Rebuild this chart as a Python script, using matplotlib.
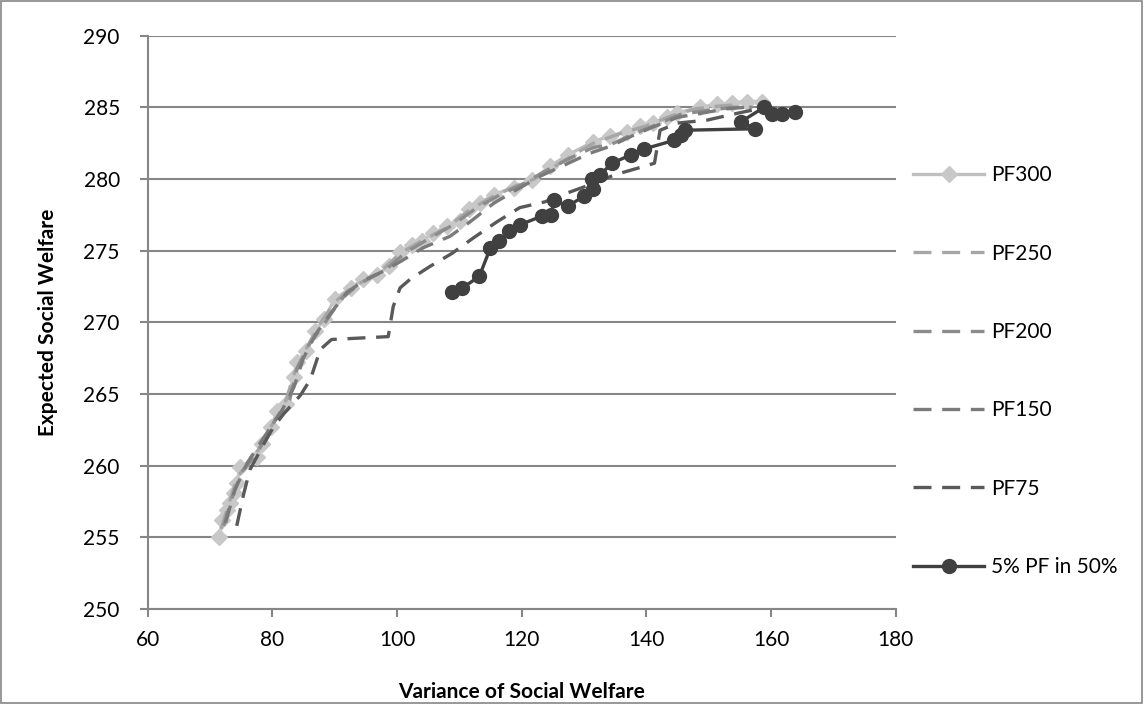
import matplotlib
matplotlib.use("Agg")
import matplotlib.pyplot as plt
from matplotlib.patches import Rectangle

# frontier points: variance (x) vs expected social welfare (y)
pf300_x = [71.5, 72.0, 72.7, 73.2, 73.8, 74.3, 74.9, 77.6, 78.3, 79.8, 80.8, 82.2,
           83.5, 83.9, 85.4, 86.9, 88.3, 90.0, 92.6, 94.6, 96.8, 98.7, 100.5, 102.4,
           104.0, 105.8, 108.0, 110.1, 111.5, 113.3, 115.5, 118.7, 121.6, 124.6,
           127.5, 131.5, 134.2, 136.9, 139.0, 141.1, 143.3, 144.9, 148.6, 151.3,
           153.7, 156.1, 158.5]
pf300_y = [255.0, 256.2, 256.9, 257.4, 258.1, 258.8, 259.9, 260.6, 261.5, 262.7, 263.8, 264.3,
           266.2, 267.2, 268.0, 269.4, 270.2, 271.6, 272.4, 273.0, 273.3, 273.9, 274.9, 275.4,
           275.7, 276.2, 276.7, 277.1, 277.9, 278.3, 278.9, 279.4, 279.9, 280.9,
           281.7, 282.6, 283.0, 283.3, 283.7, 283.9, 284.3, 284.6, 285.0, 285.2,
           285.3, 285.4, 285.4]

pf250_x = [71.8, 73.0, 74.5, 77.0, 79.5, 82.0, 83.6, 85.5, 87.5, 90.0, 93.0, 97.0, 100.5,
           104.0, 108.0, 111.5, 115.5, 119.0, 122.0, 125.0, 128.0, 131.5, 136.0, 140.0,
           144.0, 148.0, 152.0, 155.5]
pf250_y = [255.6, 257.3, 259.3, 260.5, 262.5, 264.3, 266.5, 268.2, 269.8, 271.4, 272.5, 273.4, 274.8,
           275.7, 276.6, 277.8, 278.8, 279.5, 280.0, 280.8, 281.6, 282.5, 283.2, 283.7,
           284.4, 284.9, 285.1, 285.2]

pf200_x = [72.2, 73.5, 75.0, 78.0, 80.5, 82.8, 84.0, 86.0, 88.5, 91.0, 94.0, 98.0, 101.5,
           105.0, 109.0, 112.5, 116.5, 120.0, 124.0, 128.0, 131.5, 134.3, 137.7, 141.7,
           145.4, 150.0, 154.0, 157.0]
pf200_y = [255.8, 257.7, 259.5, 261.2, 263.2, 264.6, 266.8, 268.5, 270.0, 271.6, 272.7, 273.6, 274.9,
           275.8, 276.8, 277.9, 278.9, 279.6, 280.6, 281.5, 282.2, 282.4, 283.1, 283.8,
           284.5, 284.8, 285.0, 285.0]

pf150_x = [72.5, 74.0, 76.0, 79.0, 81.5, 83.5, 85.0, 87.0, 89.5, 92.0, 95.0, 98.0, 100.8,
           104.2, 108.5, 111.7, 115.5, 119.0, 123.0, 127.0, 131.0, 134.3, 137.7, 141.5,
           145.0, 149.0, 153.0, 156.0]
pf150_y = [256.0, 258.3, 260.2, 262.2, 263.8, 265.5, 267.5, 269.2, 270.7, 272.1, 273.0, 273.6, 274.3,
           275.2, 276.0, 277.0, 278.3, 279.2, 280.2, 281.0, 281.8, 282.3, 283.0, 283.7,
           284.3, 284.6, 284.9, 285.0]

pf75_x = [74.3, 75.4, 76.4, 78.5, 80.2, 82.0, 84.5, 86.1, 87.7, 89.5, 98.6, 99.4, 100.5,
          102.1, 105.3, 108.8, 112.3, 116.0, 119.7, 123.7, 127.8, 131.0, 135.0, 139.0,
          141.3, 142.2, 145.0, 149.7, 153.7, 157.0]
pf75_y = [255.8, 258.0, 259.7, 261.4, 262.7, 263.7, 264.9, 266.0, 268.1, 268.8, 269.0, 271.1, 272.4,
          273.0, 273.9, 274.8, 275.9, 277.0, 278.0, 278.4, 279.1, 279.6, 280.3, 280.8,
          281.1, 283.4, 283.9, 284.1, 284.5, 284.8]

pf5_x = [108.9, 110.5, 113.2, 115.0, 116.4, 118.0, 119.7, 123.2, 124.7, 125.2, 127.4, 130.0,
         131.4, 131.3, 132.6, 134.5, 137.6, 139.7, 144.5, 145.5, 146.2, 157.4, 155.2, 158.9,
         160.1, 161.7, 163.8]
pf5_y = [272.1, 272.4, 273.2, 275.2, 275.7, 276.4, 276.8, 277.4, 277.5, 278.5, 278.1, 278.8,
         279.3, 280.0, 280.3, 281.1, 281.7, 282.1, 282.7, 283.1, 283.4, 283.5, 284.0, 285.0,
         284.5, 284.5, 284.7]

labels = ["PF300", "PF250", "PF200", "PF150", "PF75", "5% PF in 50%"]

plt.rcParams['font.family'] = ['Lato', 'DejaVu Sans']

fig = plt.figure(figsize=(11.44, 7.04), dpi=100)
ax = fig.add_axes([0.129, 0.135, 0.654, 0.8144])

axis_grey = "#868686"
dash = (5.4, 3.2)

ax.plot(pf300_x, pf300_y, color="#c0c0c0", lw=2.4, marker="D", ms=8.5,
        mfc="#c8c8c8", mec="#c8c8c8", label=labels[0], zorder=3)
ax.plot(pf250_x, pf250_y, color="#a6a6a6", lw=2.4, dashes=dash, label=labels[1], zorder=4)
ax.plot(pf200_x, pf200_y, color="#8c8c8c", lw=2.4, dashes=dash, label=labels[2], zorder=5)
ax.plot(pf150_x, pf150_y, color="#7a7a7a", lw=2.4, dashes=dash, label=labels[3], zorder=6)
ax.plot(pf75_x, pf75_y, color="#595959", lw=2.4, dashes=dash, label=labels[4], zorder=7)
ax.plot(pf5_x, pf5_y, color="#404040", lw=2.4, marker="o", ms=10,
        mfc="#404040", mec="#404040", label=labels[5], zorder=8)

ax.set_xlim(60, 180)
ax.set_ylim(250, 290)
ax.set_xticks(range(60, 181, 20))
ax.set_yticks(range(250, 291, 5))
ax.grid(axis="y", color=axis_grey, lw=1.5)
ax.set_axisbelow(True)
for side in ("top", "right"):
    ax.spines[side].set_visible(False)
for side in ("left", "bottom"):
    ax.spines[side].set_color(axis_grey)
    ax.spines[side].set_linewidth(1.5)
ax.tick_params(axis="both", color=axis_grey, width=1.5, length=6, labelsize=15,
               labelcolor="black")
ax.tick_params(axis="x", pad=9)
ax.tick_params(axis="y", pad=14)

ax.set_xlabel("Variance of Social Welfare", fontsize=15, fontweight="bold", labelpad=23)
ax.set_ylabel("Expected Social Welfare", fontsize=15, fontweight="bold", labelpad=18)

fig.legend(loc="center left", bbox_to_anchor=(0.782, 0.473), frameon=False,
           fontsize=15, handlelength=3.4, handletextpad=0.35, labelspacing=2.8)

# outer chart border
fig.patches.append(Rectangle((0.001, 0.001), 0.997, 0.997, transform=fig.transFigure,
                             fill=False, edgecolor=axis_grey, lw=1.2))

fig.savefig("out.png", dpi=100)
